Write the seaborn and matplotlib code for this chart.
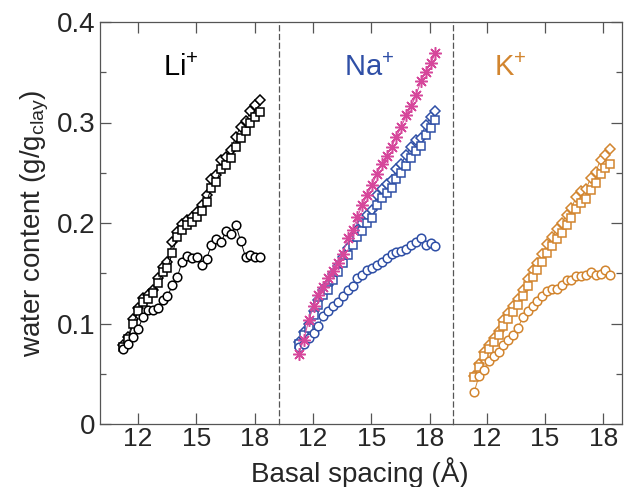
import numpy as np
import pandas as pd
import matplotlib
matplotlib.use("Agg")
import matplotlib.pyplot as plt
import seaborn as sns

# basal spacing grids (Angstrom)
li_x = [11.27, 11.52, 11.77, 12.02, 12.27, 12.52, 12.77, 13.02, 13.27, 13.52,
        13.77, 14.02, 14.27, 14.52, 14.77, 15.02, 15.27, 15.52, 15.77, 16.02,
        16.27, 16.52, 16.77, 17.02, 17.27, 17.52, 17.77, 18.02, 18.27]
na_x = [11.29, 11.54, 11.79, 12.04, 12.29, 12.54, 12.79, 13.04, 13.29, 13.54,
        13.79, 14.04, 14.29, 14.54, 14.79, 15.04, 15.29, 15.54, 15.79, 16.04,
        16.29, 16.54, 16.79, 17.04, 17.29, 17.54, 17.79, 18.04, 18.29]
k_x = [11.36, 11.61, 11.86, 12.11, 12.36, 12.61, 12.86, 13.11, 13.36, 13.61,
       13.86, 14.11, 14.36, 14.61, 14.86, 15.11, 15.36, 15.61, 15.86, 16.11,
       16.36, 16.61, 16.86, 17.11, 17.36, 17.61, 17.86, 18.11, 18.36]

# water content (g/g clay)
li_diamond = [0.079, 0.087, 0.104, 0.115, 0.125, 0.128, 0.133, 0.145, 0.156, 0.161,
              0.181, 0.191, 0.199, 0.203, 0.206, 0.211, 0.218, 0.228, 0.244, 0.248,
              0.263, 0.266, 0.273, 0.286, 0.296, 0.301, 0.311, 0.317, 0.322]
li_square = [0.077, 0.085, 0.100, 0.112, 0.121, 0.124, 0.130, 0.140, 0.151, 0.155,
             0.170, 0.186, 0.193, 0.198, 0.201, 0.206, 0.212, 0.221, 0.235, 0.241,
             0.254, 0.258, 0.265, 0.276, 0.285, 0.292, 0.300, 0.305, 0.310]
li_circle = [0.075, 0.080, 0.087, 0.095, 0.106, 0.113, 0.113, 0.115, 0.123, 0.127,
             0.138, 0.146, 0.161, 0.167, 0.165, 0.166, 0.158, 0.164, 0.178, 0.184,
             0.181, 0.192, 0.189, 0.198, 0.182, 0.166, 0.168, 0.166, 0.166]

na_star = [0.070, 0.084, 0.103, 0.117, 0.128, 0.136, 0.145, 0.152, 0.160, 0.169,
           0.185, 0.193, 0.206, 0.218, 0.228, 0.238, 0.249, 0.259, 0.267, 0.276,
           0.286, 0.296, 0.307, 0.316, 0.327, 0.341, 0.350, 0.359, 0.369]
na_diamond = [0.082, 0.092, 0.100, 0.112, 0.123, 0.133, 0.138, 0.149, 0.157, 0.166,
              0.175, 0.185, 0.193, 0.200, 0.208, 0.213, 0.228, 0.234, 0.239, 0.243,
              0.254, 0.259, 0.268, 0.276, 0.283, 0.285, 0.298, 0.305, 0.311]
na_square = [0.080, 0.089, 0.096, 0.108, 0.118, 0.128, 0.133, 0.143, 0.151, 0.160,
             0.168, 0.178, 0.186, 0.192, 0.200, 0.205, 0.218, 0.225, 0.230, 0.235,
             0.244, 0.250, 0.257, 0.265, 0.272, 0.277, 0.288, 0.295, 0.302]
na_circle = [0.077, 0.080, 0.086, 0.091, 0.098, 0.107, 0.112, 0.117, 0.121, 0.127,
             0.133, 0.137, 0.145, 0.148, 0.153, 0.155, 0.158, 0.161, 0.165, 0.169,
             0.171, 0.172, 0.174, 0.178, 0.181, 0.185, 0.178, 0.180, 0.177]

k_diamond = [0.048, 0.060, 0.072, 0.079, 0.086, 0.093, 0.103, 0.110, 0.117, 0.124,
             0.133, 0.144, 0.153, 0.160, 0.169, 0.179, 0.186, 0.194, 0.200, 0.208,
             0.215, 0.226, 0.232, 0.234, 0.245, 0.251, 0.263, 0.268, 0.274]
k_square = [0.047, 0.057, 0.068, 0.075, 0.082, 0.089, 0.098, 0.104, 0.111, 0.118,
            0.127, 0.137, 0.146, 0.153, 0.161, 0.170, 0.177, 0.184, 0.190, 0.198,
            0.205, 0.214, 0.220, 0.224, 0.233, 0.240, 0.249, 0.255, 0.259]
k_circle = [0.032, 0.048, 0.054, 0.063, 0.068, 0.072, 0.079, 0.084, 0.089, 0.096,
            0.106, 0.112, 0.117, 0.122, 0.127, 0.132, 0.134, 0.134, 0.138, 0.143,
            0.143, 0.147, 0.147, 0.148, 0.151, 0.148, 0.149, 0.153, 0.148]

sns.set_style("ticks")
plt.rcParams["font.family"] = ["Liberation Sans", "DejaVu Sans"]
plt.rcParams["mathtext.fontset"] = "custom"
plt.rcParams["mathtext.rm"] = "Liberation Sans"
plt.rcParams["mathtext.it"] = "Liberation Sans"

BLUE = "#2f4fa6"
ORANGE = "#d2852f"
MAGENTA = "#d6479b"
SPINE = "#555555"
STAR = (8, 2, 0)
FS = 20

fig = plt.figure(figsize=(6.26, 4.87), dpi=100)
gs = fig.add_gridspec(1, 3, width_ratios=[179, 174, 169], wspace=0,
                      left=100 / 626, right=622 / 626, top=1 - 22 / 487, bottom=1 - 424 / 487)
axes = [fig.add_subplot(gs[0, i]) for i in range(3)]
xlims = [(10.07, 19.23), (10.27, 19.19), (10.27, 18.96)]

panels = [
    (li_x, [(li_diamond, "D", "k"), (li_square, "s", "k"), (li_circle, "o", "k")],
     "Li$^{+}$", "black", 0.45),
    (na_x, [(na_diamond, "D", BLUE), (na_square, "s", BLUE), (na_circle, "o", BLUE),
            (na_star, STAR, MAGENTA)], "Na$^{+}$", BLUE, 0.52),
    (k_x, [(k_diamond, "D", ORANGE), (k_square, "s", ORANGE), (k_circle, "o", ORANGE)],
     "K$^{+}$", ORANGE, 0.34),
]
sizes = {"o": 6.2, "D": 5.0, "s": 5.4}

for i, (ax, (xs, series, label, lcolor, lx)) in enumerate(zip(axes, panels)):
    for ys, marker, color in series:
        df = pd.DataFrame({"x": xs, "y": ys})
        if marker == STAR:
            msize, face = 9, color
        else:
            msize, face = sizes[marker], "white"
        sns.lineplot(data=df, x="x", y="y", ax=ax, color=color, linewidth=0.7,
                     marker=marker, markersize=msize, markerfacecolor=face,
                     markeredgecolor=color, markeredgewidth=1.1, sort=False,
                     estimator=None)
    ax.set_xlim(*xlims[i])
    ax.set_ylim(0, 0.4)
    ax.set_xticks([12, 15, 18])
    ax.set_xlabel("")
    ax.set_ylabel("")
    ax.tick_params(axis="x", direction="in", length=8, width=0.9, color=SPINE,
                   top=True, labelsize=FS - 1, pad=2)
    ax.text(lx, 0.885, label, transform=ax.transAxes, fontsize=FS + 1, color=lcolor,
            ha="center", va="center")
    for side in ["top", "bottom", "left", "right"]:
        ax.spines[side].set_color(SPINE)
        ax.spines[side].set_linewidth(0.9)
    ax.set_yticks([0, 0.1, 0.2, 0.3, 0.4])
    ax.set_yticks([0.05, 0.15, 0.25, 0.35], minor=True)
    if i == 0:
        ax.set_yticklabels(["0", "0.1", "0.2", "0.3", "0.4"])
        ax.tick_params(axis="y", which="major", direction="in", length=8, width=0.9,
                       color=SPINE, labelsize=FS, left=True, right=False)
        ax.tick_params(axis="y", which="minor", direction="in", length=4.5, width=0.9,
                       color=SPINE, left=True, right=False)
        ax.spines["right"].set_visible(False)
    elif i == 1:
        ax.tick_params(axis="y", which="both", left=False, right=False, labelleft=False)
        ax.spines["left"].set_linestyle((0, (4, 3)))
        ax.spines["right"].set_visible(False)
    else:
        ax.tick_params(axis="y", which="major", direction="in", length=8, width=0.9,
                       color=SPINE, left=False, right=True, labelleft=False)
        ax.tick_params(axis="y", which="minor", direction="in", length=4.5, width=0.9,
                       color=SPINE, left=False, right=True)
        ax.spines["left"].set_linestyle((0, (4, 3)))

axes[0].set_ylabel("water content (g/g$_{\\mathrm{clay}}$)", fontsize=FS, labelpad=4)
fig.text(360 / 626, 1 - 473 / 487, "Basal spacing (Å)", fontsize=FS, ha="center", va="center")

fig.savefig("out.png", dpi=100)
